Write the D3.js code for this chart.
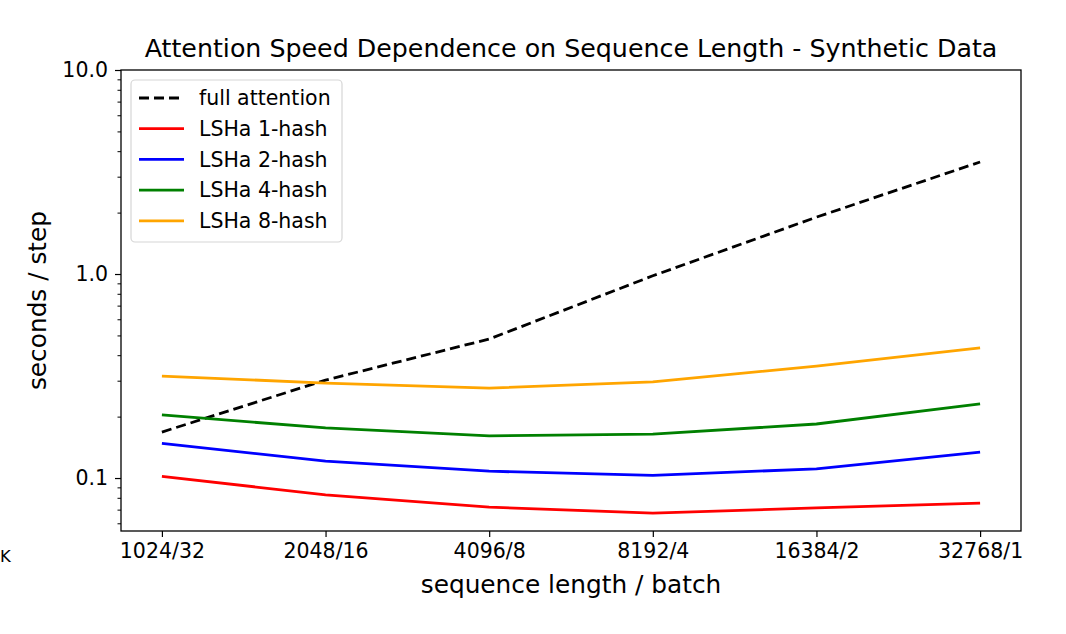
<!DOCTYPE html>
<html><head><meta charset="utf-8">
<script src="https://cdn.jsdelivr.net/npm/d3@7"></script>
<style>body{margin:0;background:#fff;}svg{display:block;font-family:"DejaVu Sans",sans-serif;}</style>
</head><body>
<svg id="c" width="1066" height="634"></svg>
<script>
const categories = ["1024/32","2048/16","4096/8","8192/4","16384/2","32768/1"];
const fullAttention = [0.168, 0.302, 0.48, 0.98, 1.9, 3.54];
const lsh1 = [0.102, 0.0826, 0.072, 0.0673, 0.0714, 0.0753];
const lsh2 = [0.148, 0.121, 0.108, 0.103, 0.111, 0.134];
const lsh4 = [0.204, 0.176, 0.161, 0.164, 0.184, 0.231];
const lsh8 = [0.316, 0.292, 0.276, 0.296, 0.354, 0.434];
const yTickValues = [0.1, 1, 10];
const yTickLabels = ["0.1", "1.0", "10.0"];
const seriesNames = ["full attention","LSHa 1-hash","LSHa 2-hash","LSHa 4-hash","LSHa 8-hash"];
const seriesValues = [fullAttention, lsh1, lsh2, lsh4, lsh8];
const seriesColors = ["#000000","#ff0000","#0000ff","#008000","#ffa500"];
const seriesDash = ["10,5", null, null, null, null];

const svg = d3.select("#c");
const L = 121, R = 1021, T = 70, B = 531;
const FS_TICK = 20.5, FS_LAB = 24.8, FS_TITLE = 25.3;
const x = d3.scaleLinear().domain([-0.25, categories.length - 0.75]).range([L, R]);
const y = d3.scaleLog().domain([0.055, 10]).range([B, T]);

// minor ticks
const minor = [];
[0.01, 0.1, 1].forEach(d => { for (let k = 2; k <= 9; k++) { const v = d * k; if (v >= 0.055 && v <= 10) minor.push(v); } });
svg.append("g").attr("transform", `translate(${L},0)`)
  .call(d3.axisLeft(y).tickValues(minor).tickSize(3.5).tickFormat(""))
  .call(g => g.select(".domain").remove())
  .call(g => g.selectAll("line").attr("stroke", "#000").attr("stroke-width", 1));
// major y ticks
svg.append("g").attr("transform", `translate(${L},0)`)
  .call(d3.axisLeft(y).tickValues(yTickValues).tickSize(6).tickPadding(7).tickFormat((d, i) => yTickLabels[i]))
  .call(g => g.select(".domain").remove())
  .call(g => g.selectAll("line").attr("stroke", "#000").attr("stroke-width", 1.2))
  .call(g => g.selectAll("text").attr("font-size", FS_TICK).attr("fill", "#000").attr("font-family", "DejaVu Sans"));
// x axis
svg.append("g").attr("transform", `translate(0,${B})`)
  .call(d3.axisBottom(x).tickValues(d3.range(categories.length)).tickSize(6).tickPadding(6).tickFormat(i => categories[i]))
  .call(g => g.select(".domain").remove())
  .call(g => g.selectAll("line").attr("stroke", "#000").attr("stroke-width", 1.2))
  .call(g => g.selectAll("text").attr("font-size", FS_TICK).attr("fill", "#000").attr("font-family", "DejaVu Sans"));

// lines
const line = d3.line().x((d, i) => x(i)).y(d => y(d));
seriesValues.forEach((vals, s) => {
  svg.append("path").datum(vals).attr("d", line)
    .attr("fill", "none").attr("stroke", seriesColors[s]).attr("stroke-width", 2.8)
    .attr("stroke-dasharray", seriesDash[s]);
});

// frame
svg.append("rect").attr("x", L).attr("y", T).attr("width", R - L).attr("height", B - T)
  .attr("fill", "none").attr("stroke", "#000").attr("stroke-width", 1.3);

// legend
const lg = svg.append("g");
lg.append("rect").attr("x", 131).attr("y", 80).attr("width", 211).attr("height", 162).attr("rx", 4)
  .attr("fill", "#fff").attr("fill-opacity", 0.8).attr("stroke", "#d6d6d6").attr("stroke-width", 1.2);
seriesNames.forEach((n, s) => {
  const yy = 98 + s * 30.7;
  lg.append("line").attr("x1", 139).attr("x2", 184).attr("y1", yy).attr("y2", yy)
    .attr("stroke", seriesColors[s]).attr("stroke-width", 2.8).attr("stroke-dasharray", seriesDash[s]);
  lg.append("text").attr("x", 199).attr("y", yy).attr("dy", "0.35em").attr("font-size", FS_TICK).text(n);
});

// title & labels
svg.append("text").attr("x", (L + R) / 2).attr("y", 57).attr("text-anchor", "middle").attr("font-size", FS_TITLE)
  .text("Attention Speed Dependence on Sequence Length - Synthetic Data");
svg.append("text").attr("x", (L + R) / 2).attr("y", 593).attr("text-anchor", "middle").attr("font-size", FS_LAB)
  .text("sequence length / batch");
svg.append("text").attr("transform", `translate(46,${(T + B) / 2}) rotate(-90)`).attr("text-anchor", "middle").attr("font-size", FS_LAB)
  .text("seconds / step");
svg.append("text").attr("x", 0).attr("y", 562).attr("font-size", FS_TICK * 0.8).text("K");
</script>
</body></html>
